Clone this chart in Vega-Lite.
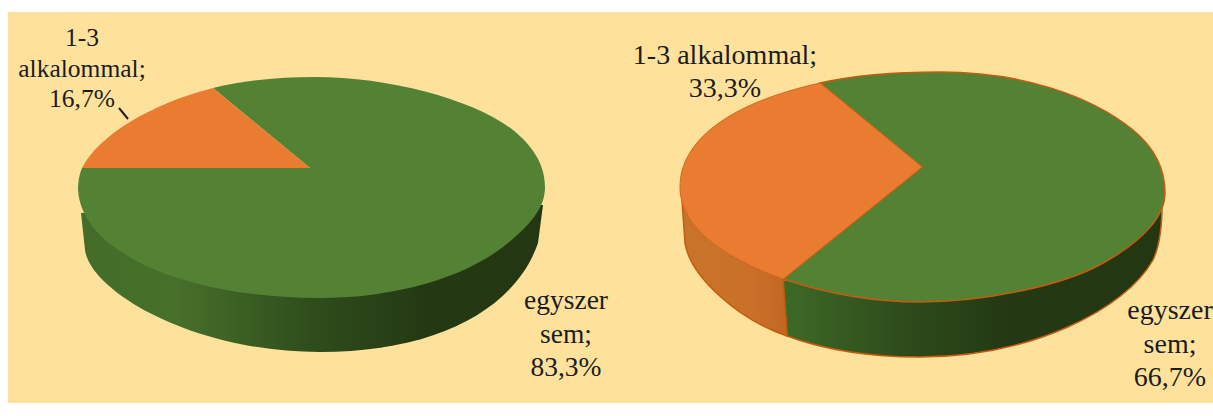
{
"$schema":"https://vega.github.io/schema/vega-lite/v6.json",
"width":1205,"height":391,
"autosize":{"type":"none"},
"padding":{"left":8,"top":12,"right":0,"bottom":13},
"background":"#ffffff",
"view":{"fill":"#FEE29C","stroke":null},
"config":{"view":{"stroke":null}},
"data":{"values":[
{"survey":"A","category":"1-3 alkalommal","share":16.7,"label":"1-3\nalkalommal;\n16,7%"},
{"survey":"A","category":"egyszer sem","share":83.3,"label":"egyszer\nsem;\n83,3%"},
{"survey":"B","category":"1-3 alkalommal","share":33.3,"label":"1-3 alkalommal;\n33,3%"},
{"survey":"B","category":"egyszer sem","share":66.7,"label":"egyszer\nsem;\n66,7%"}
]},
"encoding":{
"x":{"field":"survey","type":"nominal","axis":null,"scale":{"type":"point","padding":0,"domain":["A","B"],"range":[304,912]}},
"y":{"field":"survey","type":"nominal","axis":null,"scale":{"type":"point","padding":0,"domain":["A","B"],"range":[157,157]}}
},
"layer":[
{"transform":[{"filter":"datum.survey==='A' && datum.category==='egyszer sem'"}],
"mark":{"type":"point","filled":true,"opacity":1,"fill":{"gradient":"linear","x1":0,"y1":0,"x2":1,"y2":0,"stops":[{"offset":0,"color":"#426c28"},{"offset":0.2,"color":"#47702a"},{"offset":0.5,"color":"#2f4d1c"},{"offset":0.75,"color":"#233813"},{"offset":1,"color":"#223712"}]}},
"encoding":{"size":{"value":4},"shape":{"value":"M-231,44 L-227,81 C-222,121 -122,183 8,183 C123,183 203,141 226,74 L231,36 L8,30 Z"}}},
{"transform":[{"filter":"datum.survey==='A' && datum.category==='egyszer sem'"}],
"mark":{"type":"point","filled":true,"opacity":1,"fill":"#548235"},
"encoding":{"size":{"value":4},"shape":{"value":"M-2,-1 L-99,-81 C-67,-89 -32,-92 3,-92 C78,-92 163,-69 201,-39 C221,-23 233,-4 233,18 C233,36 223,53 191,78 C148,111 78,129 8,129 C-62,129 -142,116 -192,82 C-212,69 -232,49 -234,21 C-234,13 -233,6 -230,-1 Z"}}},
{"transform":[{"filter":"datum.survey==='A' && datum.category==='1-3 alkalommal'"}],
"mark":{"type":"point","filled":true,"opacity":1,"fill":"#E97C30"},
"encoding":{"size":{"value":4},"shape":{"value":"M-2,-1 L-230,-1 C-214,-33 -162,-65 -99,-81 Z"}}},
{"transform":[{"filter":"datum.survey==='A' && datum.category==='1-3 alkalommal'"}],
"mark":{"type":"point","filled":false,"opacity":1,"stroke":"#222222","strokeWidth":2},
"encoding":{"size":{"value":4},"shape":{"value":"M-193,-61 L-184,-50"}}},
{"transform":[{"filter":"datum.survey==='B' && datum.category==='egyszer sem'"}],
"mark":{"type":"point","filled":true,"opacity":1,"stroke":"#C55A11","strokeWidth":1.5,"fill":{"gradient":"linear","x1":0,"y1":0,"x2":1,"y2":0,"stops":[{"offset":0,"color":"#3d6a27"},{"offset":0.3,"color":"#2f4d1c"},{"offset":0.6,"color":"#233813"},{"offset":1,"color":"#223712"}]}},
"encoding":{"size":{"value":4},"shape":{"value":"M-137,112 L-133,167 C-95,181 -50,188 0,188 C110,188 205,141 233,91 C240,76 242,56 242,36 L0,80 Z"}}},
{"transform":[{"filter":"datum.survey==='B' && datum.category==='1-3 alkalommal'"}],
"mark":{"type":"point","filled":true,"opacity":1,"stroke":"#C55A11","strokeWidth":1.5,"fill":{"gradient":"linear","x1":0,"y1":0,"x2":1,"y2":0,"stops":[{"offset":0,"color":"#C8742B"},{"offset":0.5,"color":"#CA7029"},{"offset":1,"color":"#B9601F"}]}},
"encoding":{"size":{"value":4},"shape":{"value":"M-238,31 L-235,74 C-230,106 -185,149 -133,167 L-137,110 L-100,60 Z"}}},
{"transform":[{"filter":"datum.survey==='B' && datum.category==='egyszer sem'"}],
"mark":{"type":"point","filled":true,"opacity":1,"fill":"#548235","stroke":"#C55A11","strokeWidth":1.5},
"encoding":{"size":{"value":4},"shape":{"value":"M2,-2 L-100,-86 C-60,-95 -20,-97 20,-97 C100,-97 170,-74 213,-39 C235,-21 245,1 245,24 C245,46 225,71 183,94 C145,116 65,133 0,133 C-50,133 -95,124 -137,110 Z"}}},
{"transform":[{"filter":"datum.survey==='B' && datum.category==='1-3 alkalommal'"}],
"mark":{"type":"point","filled":true,"opacity":1,"fill":"#E97C30","stroke":"#D2691E","strokeWidth":1},
"encoding":{"size":{"value":4},"shape":{"value":"M2,-2 L-137,110 C-190,91 -240,61 -240,18 C-240,-29 -190,-66 -100,-86 Z"}}},
{"transform":[{"filter":"datum.survey==='A' && datum.category==='1-3 alkalommal'"}],
"mark":{"type":"text","font":"Liberation Serif","fontSize":25.5,"lineHeight":30.5,"lineBreak":"\n","align":"center","baseline":"alphabetic","color":"#1c1c1c","dx":-230,"dy":-123},
"encoding":{"text":{"field":"label"}}},
{"transform":[{"filter":"datum.survey==='A' && datum.category==='egyszer sem'"}],
"mark":{"type":"text","font":"Liberation Serif","fontSize":27.5,"lineHeight":33.5,"lineBreak":"\n","align":"center","baseline":"alphabetic","color":"#1c1c1c","dx":254,"dy":140},
"encoding":{"text":{"field":"label"}}},
{"transform":[{"filter":"datum.survey==='B' && datum.category==='1-3 alkalommal'"}],
"mark":{"type":"text","font":"Liberation Serif","fontSize":28,"lineHeight":33,"lineBreak":"\n","align":"center","baseline":"alphabetic","color":"#1c1c1c","dx":-195,"dy":-105},
"encoding":{"text":{"field":"label"}}},
{"transform":[{"filter":"datum.survey==='B' && datum.category==='egyszer sem'"}],
"mark":{"type":"text","font":"Liberation Serif","fontSize":28,"lineHeight":33.5,"lineBreak":"\n","align":"center","baseline":"alphabetic","color":"#1c1c1c","dx":250,"dy":150},
"encoding":{"text":{"field":"label"}}}
]
}
